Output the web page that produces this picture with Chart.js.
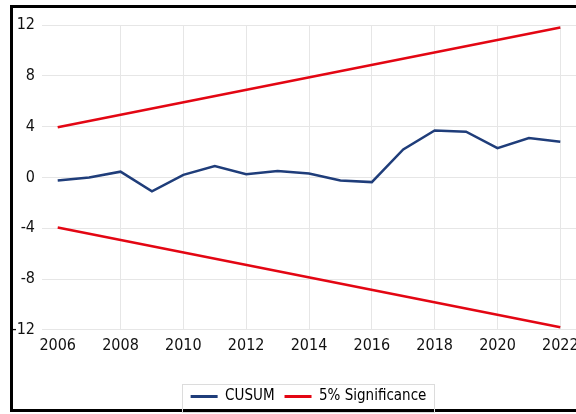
<!DOCTYPE html>
<html>
<head>
<meta charset="utf-8">
<script src="https://cdn.jsdelivr.net/npm/chart.js@4.4.0/dist/chart.umd.min.js"></script>
<style>
  html, body { margin: 0; padding: 0; background: #fff; overflow: hidden; }
  #frame { position: absolute; left: 10px; top: 5px; width: 600px; height: 401px; border: 3px solid #000; background: #fff; }
  #chart { position: absolute; left: 0; top: 0; }
</style>
</head>
<body>
<div id="frame"><canvas id="chart" width="600" height="406"></canvas></div>
<script>
// ---------- data ----------
const years = ["2006", "2007", "2008", "2009", "2010", "2011", "2012", "2013", "2014",
               "2015", "2016", "2017", "2018", "2019", "2020", "2021", "2022"];
const shownYears = ["2006", "2008", "2010", "2012", "2014", "2016", "2018", "2020", "2022"];
const cusum = [-0.25, 0.0, 0.45, -1.1, 0.2, 0.9, 0.25, 0.5, 0.3,
               -0.25, -0.37, 2.2, 3.7, 3.6, 2.3, 3.1, 2.8];
// significance bounds are straight lines: only the end points are given
const upper5 = [3.95, null, null, null, null, null, null, null, null,
                null, null, null, null, null, null, null, 11.8];
const lower5 = [-3.95, null, null, null, null, null, null, null, null,
                null, null, null, null, null, null, null, -11.8];
const yTicks = [-12, -8, -4, 0, 4, 8, 12];

const FONT = "'Liberation Sans Narrow', 'DejaVu Sans Condensed', Lato, sans-serif";
const BLUE = "#1f3d7a";
const RED = "#e30613";

// ---------- legend: shift to centre under the plot, and draw its frame ----------
const legendFrame = {
    id: "legendFrame",
    afterLayout(chart) {
        chart.legend.left += 14;
        chart.legend.right += 14;
    },
    afterDraw(chart) {
        const boxes = chart.legend && chart.legend.legendHitBoxes;
        if (!boxes || !boxes.length) return;
        const left = Math.min(...boxes.map(b => b.left)) - 9;
        const right = Math.max(...boxes.map(b => b.left + b.width)) + 7;
        const cy = boxes[0].top + boxes[0].height / 2;
        const c = chart.ctx;
        c.save();
        c.strokeStyle = "#dcdcdc";
        c.lineWidth = 1;
        c.strokeRect(Math.round(left) + 0.5, Math.round(cy - 13) + 0.5, Math.round(right - left), 28);
        c.restore();
    }
};

new Chart(document.getElementById("chart"), {
    type: "line",
    data: {
        labels: years,
        datasets: [
            { label: "CUSUM", data: cusum, borderColor: BLUE, backgroundColor: BLUE,
              borderWidth: 2.5, pointRadius: 0, tension: 0 },
            { label: "5% Significance", data: upper5, borderColor: RED, backgroundColor: RED,
              borderWidth: 2.5, pointRadius: 0, spanGaps: true },
            { label: "5% Significance", data: lower5, borderColor: RED, backgroundColor: RED,
              borderWidth: 2.5, pointRadius: 0, spanGaps: true }
        ]
    },
    options: {
        responsive: false,
        animation: false,
        layout: { padding: { left: 0, right: 37, top: 17, bottom: 0 } },
        plugins: {
            tooltip: { enabled: false },
            legend: {
                position: "bottom",
                labels: {
                    boxWidth: 27,
                    boxHeight: 3,
                    padding: 10,
                    color: "#222",
                    font: { family: FONT, size: 15 },
                    generateLabels(chart) {
                        // only one entry for the two bound lines
                        return chart.data.datasets.slice(0, 2).map((ds, i) => ({
                            text: ds.label,
                            fillStyle: ds.borderColor,
                            strokeStyle: ds.borderColor,
                            lineWidth: 0,
                            datasetIndex: i
                        }));
                    }
                }
            }
        },
        scales: {
            x: {
                offset: true,
                border: { display: false },
                afterFit(scale) { scale.height += 18; },
                grid: {
                    drawTicks: false,
                    color: ctx => (ctx.index > 0 && ctx.index % 2 === 0) ? "#e6e6e6" : "rgba(0,0,0,0)"
                },
                ticks: {
                    autoSkip: false,
                    maxRotation: 0,
                    padding: 6,
                    color: "#111",
                    font: { family: FONT, size: 16 },
                    callback: function(v) {
                        const lab = this.getLabelForValue(v);
                        return shownYears.includes(lab) ? lab : "";
                    }
                }
            },
            y: {
                min: yTicks[0],
                max: yTicks[yTicks.length - 1],
                border: { display: false },
                afterFit(scale) { scale.width = 29; },
                grid: { drawTicks: false, color: "#e6e6e6" },
                ticks: {
                    stepSize: yTicks[1] - yTicks[0],
                    padding: 7,
                    color: "#111",
                    font: { family: FONT, size: 16 }
                }
            }
        }
    },
    plugins: [legendFrame]
});
</script>
</body>
</html>
